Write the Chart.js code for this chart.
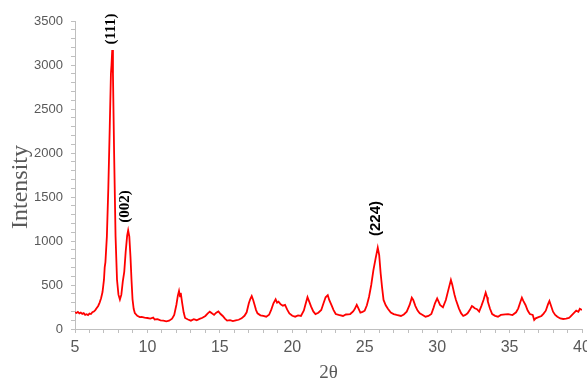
<!DOCTYPE html>
<html>
<head>
<meta charset="utf-8">
<script src="https://cdn.jsdelivr.net/npm/chart.js@4.4.1/dist/chart.umd.min.js"></script>
<style>
  html, body { margin: 0; padding: 0; background: #ffffff; overflow: hidden; }
  #wrap { width: 587px; height: 380px; position: relative; }
  canvas { display: block; }
</style>
</head>
<body>
<div id="wrap"><canvas id="c" width="587" height="380"></canvas></div>
<script>
// ---- data ----
const twoTheta = [
  5.0, 5.1, 5.2, 5.3, 5.4, 5.5, 5.6, 5.7, 5.8, 5.9,
  6.0, 6.1, 6.2, 6.3, 6.4, 6.5, 6.6, 6.7, 6.8, 6.9,
  7.0, 7.05, 7.1, 7.2, 7.3, 7.4, 7.48, 7.52, 7.57, 7.62,
  7.7, 7.8, 7.9, 8.0, 8.1, 8.2, 8.3, 8.4, 8.5, 8.6,
  8.67, 8.75, 8.83, 8.9, 8.97, 9.05, 9.13, 9.3, 9.47, 9.6,
  9.8, 10.0, 10.2, 10.4, 10.5, 10.7, 10.9, 11.1, 11.3, 11.5,
  11.7, 11.85, 12.0, 12.1, 12.18, 12.25, 12.3, 12.4, 12.5, 12.6,
  12.8, 13.0, 13.2, 13.4, 13.6, 13.8, 14.0, 14.15, 14.3, 14.45,
  14.6, 14.75, 14.9, 15.05, 15.2, 15.35, 15.5, 15.7, 15.9, 16.1,
  16.3, 16.5, 16.7, 16.85, 17.0, 17.1, 17.2, 17.3, 17.4, 17.5,
  17.6, 17.8, 18.0, 18.2, 18.4, 18.55, 18.7, 18.85, 18.95, 19.05,
  19.2, 19.35, 19.5, 19.65, 19.8, 20.0, 20.2, 20.4, 20.6, 20.8,
  20.9, 21.05, 21.15, 21.3, 21.45, 21.6, 21.8, 22.0, 22.15, 22.3,
  22.45, 22.55, 22.7, 22.85, 23.0, 23.2, 23.5, 23.7, 24.0, 24.2,
  24.3, 24.45, 24.55, 24.7, 24.85, 25.0, 25.15, 25.3, 25.45, 25.6,
  25.75, 25.9, 26.0, 26.1, 26.2, 26.3, 26.45, 26.6, 26.8, 27.0,
  27.2, 27.5, 27.7, 27.9, 28.1, 28.25, 28.35, 28.5, 28.65, 28.8,
  29.0, 29.2, 29.4, 29.6, 29.75, 29.85, 30.0, 30.1, 30.2, 30.4,
  30.6, 30.8, 30.95, 31.05, 31.1, 31.2, 31.3, 31.5, 31.65, 31.8,
  31.95, 32.1, 32.25, 32.4, 32.5, 32.6, 32.75, 32.9, 33.05, 33.2,
  33.35, 33.45, 33.5, 33.65, 33.8, 34.0, 34.2, 34.4, 34.7, 34.9,
  35.2, 35.45, 35.6, 35.75, 35.85, 35.95, 36.1, 36.25, 36.4, 36.6,
  36.7, 36.8, 37.0, 37.2, 37.35, 37.5, 37.65, 37.75, 37.85, 38.0,
  38.15, 38.3, 38.5, 38.7, 38.9, 39.1, 39.2, 39.4, 39.6, 39.75,
  39.85, 40.0
];
const intensity = [
  189, 182, 195, 178, 186, 172, 180, 160, 168, 158,
  175, 170, 190, 198, 215, 239, 262, 300, 350, 420,
  560, 700, 760, 1050, 1600, 2300, 2900, 3000, 3170, 2900,
  2000, 1050, 560, 390, 335, 390, 540, 650, 880, 1060,
  1120, 1050, 820, 560, 340, 230, 182, 150, 136, 138,
  128, 125, 118, 130, 108, 112, 98, 96, 88, 95,
  118, 160, 276, 380, 432, 370, 410, 295, 190, 125,
  108, 95, 112, 100, 115, 128, 148, 175, 197, 178,
  160, 185, 200, 170, 148, 118, 95, 100, 90, 98,
  105, 121, 150, 190, 292, 340, 375, 330, 273, 215,
  178, 155, 148, 140, 162, 220, 292, 337, 300, 310,
  280, 265, 275, 220, 178, 150, 140, 155, 148, 210,
  273, 362, 320, 254, 200, 170, 185, 216, 290, 360,
  385, 330, 273, 215, 170, 160, 148, 165, 170, 200,
  223, 275, 240, 186, 195, 208, 270, 367, 500, 670,
  800, 924, 840, 633, 470, 330, 270, 230, 186, 170,
  160, 148, 165, 197, 273, 356, 330, 261, 210, 178,
  160, 140, 148, 170, 240, 292, 348, 310, 273, 246,
  330, 462, 557, 500, 462, 390, 330, 235, 180, 148,
  160, 178, 215, 261, 250, 235, 225, 197, 260, 330,
  413, 360, 311, 230, 170, 150, 140, 160, 167, 170,
  159, 190, 235, 310, 356, 320, 273, 210, 170, 160,
  102, 121, 135, 148, 175, 208, 280, 318, 270, 197,
  160, 140, 120, 114, 118, 125, 140, 175, 208, 195,
  230, 216
];
const xTickLabels = [5, 10, 15, 20, 25, 30, 35, 40];
const yTickLabels = [0, 500, 1000, 1500, 2000, 2500, 3000, 3500];
const peakLabels = ['(111)', '(002)', '(224)'];
const peakLabelX = [7.49, 8.45, 25.78];
const peakLabelY = [3409, 1392, 1256];

// ---- chart ----
const points = twoTheta.map((x, i) => ({ x: x, y: intensity[i] }));
const gray = '#595959';
const axisGray = '#bfbfbf';

const peakPlugin = {
  id: 'peakLabels',
  afterDatasetsDraw(chart) {
    const ctx = chart.ctx;
    const xs = chart.scales.x, ys = chart.scales.y;
    const fonts = ['bold 15px "Liberation Serif"', 'bold 15px "Liberation Serif"', 'bold 15px "Liberation Sans"'];
    ctx.save();
    peakLabels.forEach((t, i) => {
      const px = xs.getPixelForValue(peakLabelX[i]);
      const py = ys.getPixelForValue(peakLabelY[i]);
      ctx.save();
      ctx.translate(px, py);
      ctx.rotate(-Math.PI / 2);
      ctx.font = fonts[i];
      ctx.fillStyle = '#000000';
      ctx.textAlign = 'center';
      ctx.textBaseline = 'middle';
      ctx.fillText(t, 0, 0);
      ctx.restore();
    });
    // y axis title
    const area = chart.chartArea;
    ctx.save();
    ctx.translate(21, (area.top + area.bottom) / 2 + 12);
    ctx.rotate(-Math.PI / 2);
    ctx.font = '24px "Liberation Serif"';
    ctx.fillStyle = gray;
    ctx.textAlign = 'center';
    ctx.textBaseline = 'middle';
    ctx.fillText('Intensity', 0, 0);
    ctx.restore();
    ctx.restore();
  }
};

new Chart(document.getElementById('c'), {
  type: 'line',
  data: {
    datasets: [{
      data: points,
      borderColor: '#ff0000',
      borderWidth: 1.8,
      pointRadius: 0,
      tension: 0,
      fill: false
    }]
  },
  options: {
    responsive: false,
    animation: false,
    devicePixelRatio: 1,
    layout: { padding: { left: 0, right: 5, top: 21, bottom: 0 } },
    plugins: { legend: { display: false }, tooltip: { enabled: false } },
    scales: {
      x: {
        type: 'linear',
        min: 5, max: 40,
        grid: { drawOnChartArea: false, drawTicks: true, tickLength: 4, color: axisGray },
        border: { color: axisGray, width: 1 },
        ticks: {
          stepSize: 1,
          autoSkip: false,
          maxRotation: 0,
          padding: 5,
          color: gray,
          font: { family: '"Liberation Sans", Arial, sans-serif', size: 16 },
          callback: (v) => xTickLabels.includes(v) ? String(v) : ''
        },
        title: {
          display: true,
          text: '2θ',
          color: gray,
          font: { family: '"Liberation Serif", serif', size: 19, lineHeight: 1 },
          padding: { top: 0, bottom: -3 }
        },
        afterFit(scale) { scale.height = 51; scale.paddingLeft = 0; scale.paddingRight = 0; }
      },
      y: {
        min: 0, max: 3500,
        grid: { drawOnChartArea: false, drawTicks: true, tickLength: 4, color: axisGray },
        border: { color: axisGray, width: 1 },
        ticks: {
          stepSize: 100,
          autoSkip: false,
          padding: 8,
          color: gray,
          font: { family: '"Liberation Sans", Arial, sans-serif', size: 13 },
          callback: (v) => yTickLabels.includes(v) ? String(v) : ''
        },
        afterFit(scale) { scale.width = 75; scale.paddingTop = 0; scale.paddingBottom = 0; }
      }
    }
  },
  plugins: [peakPlugin]
});
</script>
</body>
</html>
